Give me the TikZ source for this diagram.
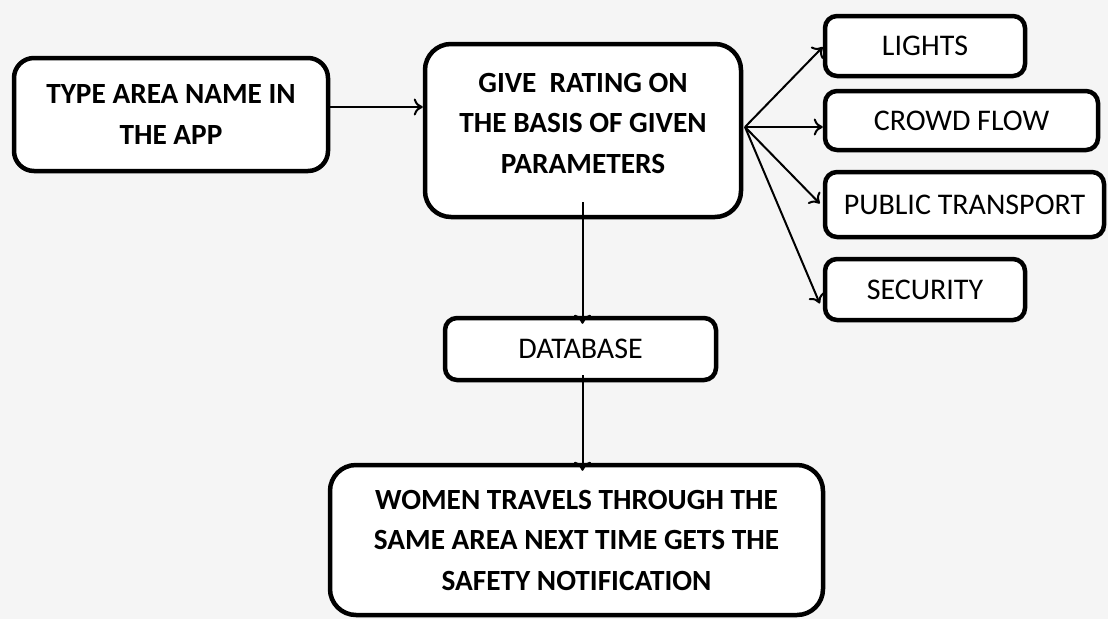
\documentclass[tikz,border=0pt]{standalone}
\usepackage{fontspec}
\setmainfont{Carlito}
\usetikzlibrary{calc,arrows.meta}
\definecolor{bg}{HTML}{F5F5F5}
\tikzset{
  box/.style={draw=black, line width=4.5pt, fill=white, rounded corners=#1, inner sep=0pt},
  box/.default=14pt,
  btext/.style={align=center, font=\fontsize{29.3}{40.5}\selectfont\bfseries, inner sep=0pt},
  rtext/.style={align=center, font=\fontsize{30}{34}\selectfont, inner sep=0pt},
  conn/.style={draw=black, line width=2pt, -{To[length=9pt,width=17pt,line width=2pt]}},
}
\begin{document}
\begin{tikzpicture}[x=1pt,y=-1pt]
\fill[bg] (0,0) rectangle (1108,619);
\useasboundingbox (0,0) rectangle (1108,619);
% main boxes
\node[box=20pt, minimum width=314pt, minimum height=113pt, btext] (a) at (171,114.5) {TYPE AREA NAME IN\\THE APP};
\node[box=26pt, minimum width=316pt, minimum height=173pt] (g) at (583,130.5) {};
\node[btext] (gt) at (583,123) {GIVE\ \ RATING ON\\THE BASIS OF GIVEN\\PARAMETERS};
\node[box=12pt, minimum width=200pt, minimum height=60pt, rtext] (l) at (925,46) {LIGHTS};
\node[box=12pt, minimum width=273pt, minimum height=59pt, rtext] (c) at (961.5,120.5) {CROWD FLOW};
\node[box=12pt, minimum width=279pt, minimum height=65pt, rtext] (p) at (964.5,204.5) {PUBLIC TRANSPORT};
\node[box=12pt, minimum width=200pt, minimum height=61pt, rtext] (s) at (925,289.5) {SECURITY};
\node[box=12pt, minimum width=271pt, minimum height=62pt, rtext] (d) at (580.5,349) {DATABASE};
\node[box=26pt, minimum width=493pt, minimum height=150pt, btext, text depth=0pt] (w) at (576.5,540) {WOMEN TRAVELS THROUGH THE\\SAME AREA NEXT TIME GETS THE\\SAFETY NOTIFICATION};
% connectors
\coordinate (fan) at (745,127);
\coordinate (vx) at (582.5,0);
\draw[conn] (a.east |- 0,107) -- (g.west |- 0,107);
\draw[conn] (fan) -- (l.west |- 0,47);
\draw[conn] (fan) -- (c.west |- 0,127);
\draw[conn] (fan) -- ($(p.west)+(-3,-1)$);
\draw[conn] (fan) -- ($(s.west)+(-3,14)$);
\draw[conn] (vx |- 0,202) -- ($(vx |- d.north)+(0,8)$);
\draw[conn] ($(vx |- d.south)+(0,-7)$) -- ($(vx |- w.north)+(0,8)$);
\end{tikzpicture}
\end{document}
